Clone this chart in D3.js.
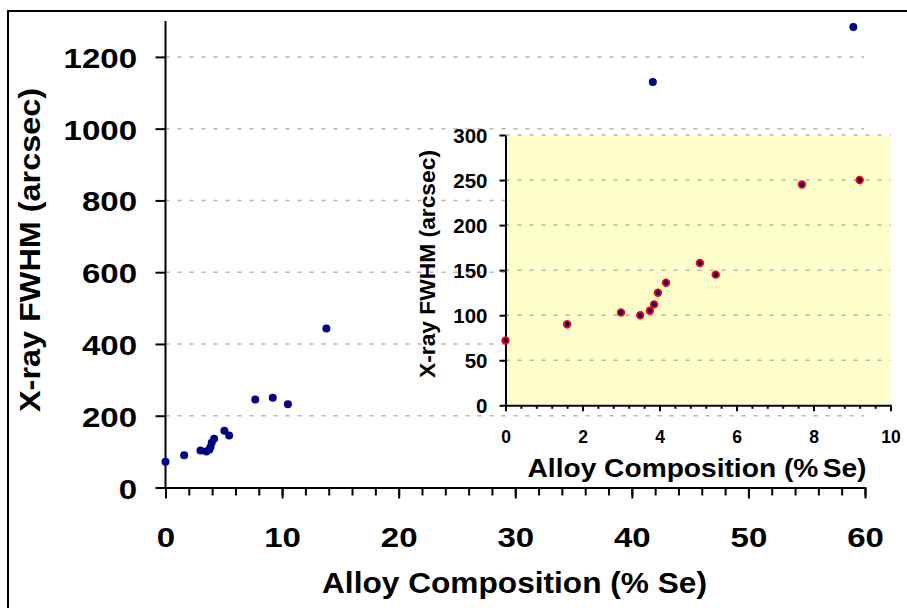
<!DOCTYPE html>
<html>
<head>
<meta charset="utf-8">
<script src="https://cdn.jsdelivr.net/npm/d3@7"></script>
<style>
	html, body { margin: 0; padding: 0; background: #fff; }
	svg { display: block; }
	text { font-family: Arial, "Liberation Sans", sans-serif; font-weight: bold; fill: #000; }
</style>
</head>
<body>
<div id="chart"></div>
<script>

// Se content (%) and X-ray FWHM (arcsec)
const seContent = [0, 1.6, 3.0, 3.5, 3.75, 3.86, 3.96, 4.17, 5.05, 5.46, 7.7, 9.2, 10.5, 13.8, 41.8, 59.0];
const fwhm = [72, 90, 103, 100, 105, 112, 125, 136, 158, 145, 245, 250, 232, 443, 1130, 1283];

const mainXTicks = [0, 10, 20, 30, 40, 50, 60];
const mainYTicks = [0, 200, 400, 600, 800, 1000, 1200];
const insetXTicks = [0, 2, 4, 6, 8, 10];
const insetYTicks = [0, 50, 100, 150, 200, 250, 300];

const xTitle = "Alloy Composition (% Se)";
const yTitle = "X-ray FWHM (arcsec)";

const WIDTH = 907;
const HEIGHT = 608;
const NAVY = "#000080";
const GRID = "#b4b4b4";
const fmt = d3.format("d");

const points = seContent.map((x, i) => ({ x: x, y: fwhm[i] }));

const svg = d3.select("#chart").append("svg")
	.attr("width", WIDTH)
	.attr("height", HEIGHT);

// frame (only top and left edge are in the shot)
svg.append("path")
	.attr("d", `M8,${HEIGHT} V11 H${WIDTH}`)
	.attr("fill", "none")
	.attr("stroke", "#000")
	.attr("stroke-width", 2);

function grid (g, scaleX, scaleY, values) {
	g.selectAll("line")
		.data(values.filter(v => v > 0))
		.enter()
		.append("line")
		.attr("x1", scaleX.range()[0])
		.attr("x2", scaleX.range()[1])
		.attr("y1", d => scaleY(d))
		.attr("y2", d => scaleY(d))
		.attr("stroke", GRID)
		.attr("stroke-width", 1.5)
		.attr("stroke-dasharray", "4,8");
}

function styleAxis (g, size) {
	g.attr("font-size", size).attr("font-family", null);
	g.selectAll("path, line").attr("stroke", "#000").attr("stroke-width", 2);
}

/* ---------- main chart ---------- */

const x = d3.scaleLinear().domain([0, 60]).range([165.5, 865]);
const y = d3.scaleLinear().domain([0, 1300]).range([487.5, 21]);

grid(svg.append("g"), d3.scaleLinear().range([165.5, 864]), y, mainYTicks);

const gx = svg.append("g")
	.attr("transform", `translate(0,${y(0)})`)
	.call(d3.axisBottom(x).tickValues(mainXTicks).tickFormat(fmt).tickSize(11).tickSizeOuter(0));
styleAxis(gx, 28);
gx.selectAll("text")
	.attr("y", 60)
	.attr("dy", 0)
	.attr("transform", "scale(1.18,1)");

const gxMinor = svg.append("g")
	.attr("transform", `translate(0,${y(0)})`)
	.call(d3.axisBottom(x).tickValues(d3.range(0, 61, 2)).tickSize(8).tickFormat(""));
gxMinor.select(".domain").remove();
styleAxis(gxMinor, 28);

const gy = svg.append("g")
	.attr("transform", `translate(${x(0)},0)`)
	.call(d3.axisLeft(y).tickValues(mainYTicks).tickFormat(fmt).tickSize(10).tickSizeOuter(0));
styleAxis(gy, 28);
gy.select(".domain").attr("d", `M0,${y(0)}V${y(1300)}`);
gy.selectAll("text")
	.attr("x", -28.5 / 1.18)
	.attr("dy", 0)
	.attr("y", 10.5)
	.attr("transform", "scale(1.18,1)");

svg.append("g")
	.selectAll("circle")
	.data(points)
	.enter()
	.append("circle")
	.attr("cx", d => x(d.x))
	.attr("cy", d => y(d.y))
	.attr("r", 4)
	.attr("fill", NAVY);

svg.append("text")
	.attr("x", 514.5)
	.attr("y", 593)
	.attr("text-anchor", "middle")
	.attr("font-size", 29)
	.attr("textLength", 385)
	.attr("lengthAdjust", "spacingAndGlyphs")
	.text(xTitle);

svg.append("text")
	.attr("transform", "translate(40,250) rotate(-90)")
	.attr("text-anchor", "middle")
	.attr("font-size", 30)
	.attr("textLength", 324)
	.attr("lengthAdjust", "spacingAndGlyphs")
	.text(yTitle);

/* ---------- inset (0 - 10 % Se) ---------- */

const ix = d3.scaleLinear().domain([0, 10]).range([505.5, 890.5]);
const iy = d3.scaleLinear().domain([0, 300]).range([405.3, 135]);

svg.append("rect")
	.attr("x", ix(0))
	.attr("y", iy(300))
	.attr("width", ix(10) - ix(0))
	.attr("height", iy(0) - iy(300))
	.attr("fill", "#ffffcc");

grid(svg.append("g"), ix, iy, insetYTicks);

const igx = svg.append("g")
	.attr("transform", `translate(0,${iy(0)})`)
	.call(d3.axisBottom(ix).tickValues(insetXTicks).tickFormat(fmt).tickSize(6).tickSizeOuter(0));
styleAxis(igx, 17.5);
igx.selectAll("text").attr("y", 38).attr("dy", 0);

const igxMinor = svg.append("g")
	.attr("transform", `translate(0,${iy(0)})`)
	.call(d3.axisBottom(ix).tickValues(d3.range(0, 10.01, 0.4)).tickSize(3.5).tickFormat(""));
igxMinor.select(".domain").remove();
styleAxis(igxMinor, 17.5);

const igy = svg.append("g")
	.attr("transform", `translate(${ix(0)},0)`)
	.call(d3.axisLeft(iy).tickValues(insetYTicks).tickFormat(fmt).tickSize(6).tickSizeOuter(0));
styleAxis(igy, 20.5);
igy.selectAll("text").attr("x", -18).attr("dy", 0).attr("y", 7);

svg.append("g")
	.selectAll("circle")
	.data(points.filter(d => d.x <= 10))
	.enter()
	.append("circle")
	.attr("cx", d => ix(d.x))
	.attr("cy", d => iy(d.y))
	.attr("r", 3.3)
	.attr("fill", NAVY)
	.attr("stroke", "#ff0000")
	.attr("stroke-width", 1.8);

const insetXTitle = svg.append("text")
	.attr("x", 697)
	.attr("y", 476.5)
	.attr("text-anchor", "middle")
	.attr("font-size", 25.5)
	.attr("textLength", 339)
	.attr("lengthAdjust", "spacingAndGlyphs")
	.text("Alloy Composition (%");
insetXTitle.append("tspan").attr("dx", 4).text("Se)");

svg.append("text")
	.attr("transform", "translate(435,264) rotate(-90)")
	.attr("text-anchor", "middle")
	.attr("font-size", 22.5)
	.attr("textLength", 228)
	.attr("lengthAdjust", "spacingAndGlyphs")
	.text(yTitle);

</script>
</body>
</html>
